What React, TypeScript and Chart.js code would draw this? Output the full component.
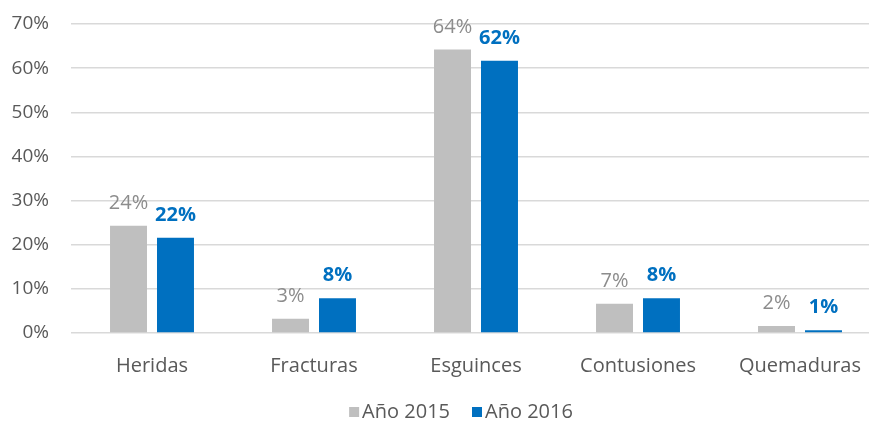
import { useEffect, useRef } from "react";
import { Chart, registerables } from "chart.js";

Chart.register(...registerables);

const categories = ["Heridas", "Fracturas", "Esguinces", "Contusiones", "Quemaduras"];
const seriesNames = ["Año 2015", "Año 2016"];
const values2015 = [24.3, 3.2, 64.2, 6.6, 1.6];
const values2016 = [21.6, 7.9, 61.7, 7.9, 0.6];
const yMin = 0;
const yMax = 70;
const yStep = 10;

const COLORS = ["#BFBFBF", "#0070C0"];
const LABEL_COLORS = ["#8C8C8C", "#0070C0"];
const FONT = '"Open Sans", "DejaVu Sans", sans-serif';
const TEXT_GRAY = "#595959";

const dataLabelPlugin = {
  id: "dataLabelPlugin",
  afterDatasetsDraw(chart: any) {
    const ctx = chart.ctx;
    chart.data.datasets.forEach((ds: any, i: number) => {
      const meta = chart.getDatasetMeta(i);
      meta.data.forEach((bar: any, j: number) => {
        const v = ds.data[j] as number;
        ctx.save();
        ctx.font = (i === 1 ? "bold " : "") + "20px " + FONT;
        ctx.fillStyle = LABEL_COLORS[i];
        ctx.textAlign = "center";
        ctx.textBaseline = "alphabetic";
        ctx.fillText(Math.round(v) + "%", bar.x, bar.y - 17);
        ctx.restore();
      });
    });
  },
};

const legendPlugin = {
  id: "customLegend",
  afterDraw(chart: any) {
    const ctx = chart.ctx;
    ctx.save();
    ctx.font = "20px " + FONT;
    const box = 10;
    const gap = 3;
    const itemGap = 22;
    const widths = seriesNames.map((n) => ctx.measureText(n).width);
    const total = widths.reduce((a, w) => a + box + gap + w, 0) + itemGap * (seriesNames.length - 1);
    let x = 461 - total / 2;
    const baseline = 418;
    seriesNames.forEach((n, i) => {
      ctx.fillStyle = COLORS[i];
      ctx.fillRect(x, baseline - 11, box, box);
      x += box + gap;
      ctx.fillStyle = TEXT_GRAY;
      ctx.textAlign = "left";
      ctx.textBaseline = "alphabetic";
      ctx.fillText(n, x, baseline);
      x += widths[i] + itemGap;
    });
    ctx.restore();
  },
};

export default function App() {
  const ref = useRef<HTMLCanvasElement | null>(null);

  useEffect(() => {
    let chart: Chart | null = null;
    let cancelled = false;
    const make = () => {
      if (cancelled || !ref.current) return;
      chart = new Chart(ref.current, {
        type: "bar",
        data: {
          labels: categories,
          datasets: [
            {
              label: seriesNames[0],
              data: values2015,
              backgroundColor: COLORS[0],
              barPercentage: 0.787,
              categoryPercentage: 0.58,
            },
            {
              label: seriesNames[1],
              data: values2016,
              backgroundColor: COLORS[1],
              barPercentage: 0.787,
              categoryPercentage: 0.58,
            },
          ],
        },
        options: {
          animation: false,
          responsive: true,
          maintainAspectRatio: false,
          layout: { padding: { top: 24, left: 0, right: 9, bottom: 0 } },
          plugins: {
            legend: { display: false },
            tooltip: { enabled: false },
          },
          scales: {
            x: {
              grid: { display: false },
              border: { display: false },
              ticks: {
                color: TEXT_GRAY,
                font: { family: FONT, size: 20 },
                padding: 13,
                maxRotation: 0,
              },
              afterFit: (s: any) => {
                s.height = 89;
                s.paddingLeft = 0;
                s.paddingRight = 0;
              },
            },
            y: {
              min: yMin,
              max: yMax,
              grid: { color: "#D9D9D9", lineWidth: 1.5, drawTicks: false },
              border: { display: false },
              ticks: {
                stepSize: yStep,
                color: TEXT_GRAY,
                font: { family: FONT, size: 19 },
                padding: 22,
                callback: (v: any) => v + "%",
              },
              afterFit: (s: any) => {
                s.width = 71;
                s.paddingTop = 0;
                s.paddingBottom = 0;
              },
            },
          },
        },
        plugins: [dataLabelPlugin, legendPlugin],
      });
    };
    const fontsReady = (document as any).fonts
      ? Promise.all([
          (document as any).fonts.load('20px "Open Sans"'),
          (document as any).fonts.load('bold 20px "Open Sans"'),
        ]).catch(() => null)
      : Promise.resolve(null);
    fontsReady.then(make);
    return () => {
      cancelled = true;
      if (chart) chart.destroy();
    };
  }, []);

  return (
    <div
      style={{
        position: "absolute",
        left: 0,
        top: 0,
        width: 869,
        height: 422,
        overflow: "hidden",
        background: "#ffffff",
      }}
    >
      <div style={{ position: "relative", width: 890, height: 422 }}>
        <canvas ref={ref} />
      </div>
    </div>
  );
}
